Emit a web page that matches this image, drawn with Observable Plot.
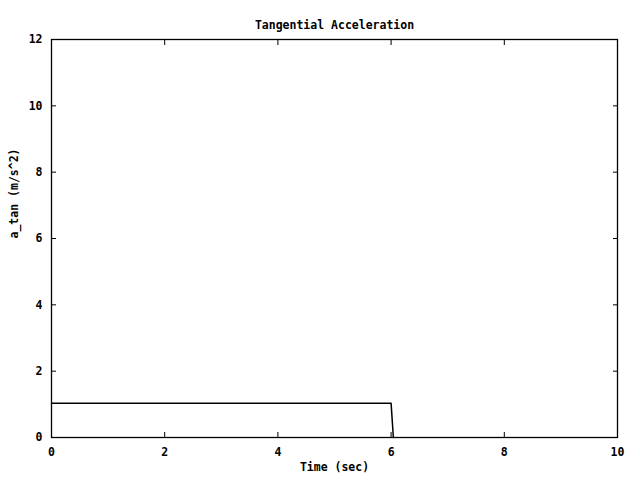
<!DOCTYPE html>
<html>
<head>
<meta charset="utf-8">
<script src="https://cdn.jsdelivr.net/npm/d3@7"></script>
<script src="https://cdn.jsdelivr.net/npm/@observablehq/plot@0.6"></script>
<style>
  html, body { margin: 0; padding: 0; background: #fff; }
</style>
</head>
<body>
<div id="chart"></div>
<script>
const title = "Tangential Acceleration";
const xLabel = "Time (sec)";
const yLabel = "a_tan (m/s^2)";
const time = [0, 6.0, 6.04];
const aTan = [1.03, 1.03, 0];
const xTicks = [0, 2, 4, 6, 8, 10];
const yTicks = [0, 2, 4, 6, 8, 10, 12];

const data = time.map((t, i) => ({t, a: aTan[i]}));
const font = "'DejaVu Sans Mono', monospace";

const chart = Plot.plot({
  width: 640,
  height: 480,
  marginLeft: 51,
  marginRight: 23,
  marginTop: 39,
  marginBottom: 43,
  style: {background: "#fff", fontFamily: font, fontSize: "11.5px", fontWeight: "bold", color: "#000"},
  x: {domain: [0, 10]},
  y: {domain: [0, 12]},
  marks: [
    Plot.axisX({anchor: "bottom", ticks: xTicks, tickSize: 0, tickPadding: 10, label: null}),
    Plot.axisX({anchor: "bottom", ticks: xTicks, tickSize: -5, tickFormat: () => "", label: null}),
    Plot.axisX({anchor: "top", ticks: xTicks, tickSize: -5, tickFormat: () => "", label: null}),
    Plot.axisY({anchor: "left", ticks: yTicks, tickSize: 0, tickPadding: 9, label: null}),
    Plot.axisY({anchor: "left", ticks: yTicks, tickSize: -5, tickFormat: () => "", label: null}),
    Plot.axisY({anchor: "right", ticks: yTicks, tickSize: -5, tickFormat: () => "", label: null}),
    Plot.line(data, {x: "t", y: "a", stroke: "#000", strokeWidth: 1.5}),
    Plot.frame({stroke: "#000", strokeWidth: 1.3}),
    Plot.text([title], {frameAnchor: "top", dy: -19, fontSize: 11.5, fontWeight: "bold"}),
    Plot.text([xLabel], {frameAnchor: "bottom", dy: 33, fontSize: 11.5, fontWeight: "bold"}),
    Plot.text([yLabel], {frameAnchor: "left", dx: -37, rotate: -90, fontSize: 11.5, fontWeight: "bold"})
  ]
});
document.getElementById("chart").appendChild(chart);
</script>
</body>
</html>
